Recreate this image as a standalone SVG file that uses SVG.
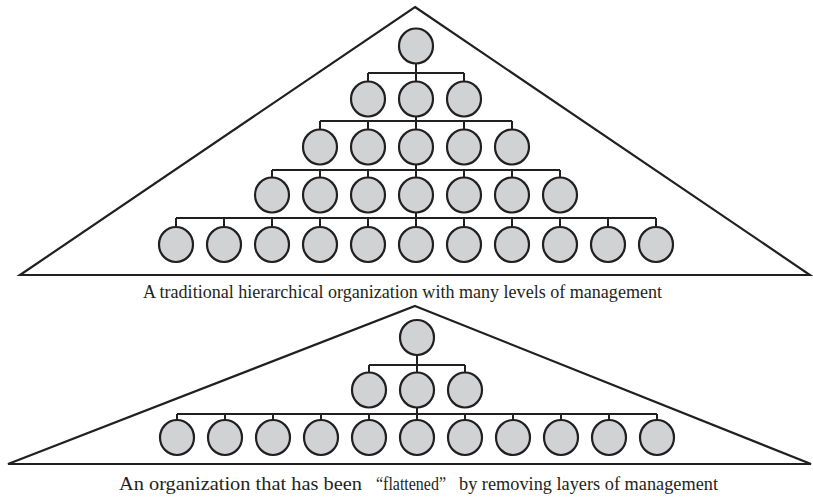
<svg xmlns="http://www.w3.org/2000/svg" width="813" height="497" viewBox="0 0 813 497">
<defs>
<style>
.tri{fill:none;stroke:#231f20;stroke-width:2.2;stroke-linejoin:miter}
.n{fill:#d1d2d4;stroke:#231f20;stroke-width:2.2}
.c{fill:none;stroke:#231f20;stroke-width:2}
.cap{font-family:"Liberation Serif","DejaVu Serif",serif;font-size:18px;fill:#231f20}
</style>
</defs>
<rect width="813" height="497" fill="#ffffff"/>
<g id="pyramid-top">
<polygon class="tri" points="415,7 810,275 20,275"/>
</g>
<g id="pyramid-bottom">
<polygon class="tri" points="415,306 811,464 8,464"/>
</g>
<g id="connectors">
<path class="c" d="M416,63V73M368,73H464M368,73V82M416,73V82M464,73V82"/>
<path class="c" d="M416,116V121M320,121H512M320,121V130M368,121V130M416,121V130M464,121V130M512,121V130"/>
<path class="c" d="M416,164V170M272,170H560M272,170V178M320,170V178M368,170V178M416,170V178M464,170V178M512,170V178M560,170V178"/>
<path class="c" d="M416,212V218M176,218H656M176,218V227M224,218V227M272,218V227M320,218V227M368,218V227M416,218V227M464,218V227M512,218V227M560,218V227M608,218V227M656,218V227"/>
<path class="c" d="M417,355V365M369,365H465M369,365V373M417,365V373M465,365V373"/>
<path class="c" d="M417,407V414M177,414H657M177,414V420M225,414V420M273,414V420M321,414V420M369,414V420M417,414V420M465,414V420M513,414V420M561,414V420M609,414V420M657,414V420"/>
</g>
<g id="top-l1"><ellipse class="n" cx="416" cy="46" rx="17" ry="17.5"/></g>
<g id="top-l2">
<ellipse class="n" cx="368" cy="99" rx="17" ry="17.5"/>
<ellipse class="n" cx="416" cy="99" rx="17" ry="17.5"/>
<ellipse class="n" cx="464" cy="99" rx="17" ry="17.5"/>
</g>
<g id="top-l3">
<ellipse class="n" cx="320" cy="147" rx="17" ry="17.5"/>
<ellipse class="n" cx="368" cy="147" rx="17" ry="17.5"/>
<ellipse class="n" cx="416" cy="147" rx="17" ry="17.5"/>
<ellipse class="n" cx="464" cy="147" rx="17" ry="17.5"/>
<ellipse class="n" cx="512" cy="147" rx="17" ry="17.5"/>
</g>
<g id="top-l4">
<ellipse class="n" cx="272" cy="195" rx="17" ry="17.5"/>
<ellipse class="n" cx="320" cy="195" rx="17" ry="17.5"/>
<ellipse class="n" cx="368" cy="195" rx="17" ry="17.5"/>
<ellipse class="n" cx="416" cy="195" rx="17" ry="17.5"/>
<ellipse class="n" cx="464" cy="195" rx="17" ry="17.5"/>
<ellipse class="n" cx="512" cy="195" rx="17" ry="17.5"/>
<ellipse class="n" cx="560" cy="195" rx="17" ry="17.5"/>
</g>
<g id="top-l5">
<ellipse class="n" cx="176" cy="244.5" rx="17" ry="17.5"/>
<ellipse class="n" cx="224" cy="244.5" rx="17" ry="17.5"/>
<ellipse class="n" cx="272" cy="244.5" rx="17" ry="17.5"/>
<ellipse class="n" cx="320" cy="244.5" rx="17" ry="17.5"/>
<ellipse class="n" cx="368" cy="244.5" rx="17" ry="17.5"/>
<ellipse class="n" cx="416" cy="244.5" rx="17" ry="17.5"/>
<ellipse class="n" cx="464" cy="244.5" rx="17" ry="17.5"/>
<ellipse class="n" cx="512" cy="244.5" rx="17" ry="17.5"/>
<ellipse class="n" cx="560" cy="244.5" rx="17" ry="17.5"/>
<ellipse class="n" cx="608" cy="244.5" rx="17" ry="17.5"/>
<ellipse class="n" cx="656" cy="244.5" rx="17" ry="17.5"/>
</g>
<g id="bot-l1"><ellipse class="n" cx="417" cy="337.5" rx="17" ry="17.5"/></g>
<g id="bot-l2">
<ellipse class="n" cx="369" cy="390" rx="17" ry="17.5"/>
<ellipse class="n" cx="417" cy="390" rx="17" ry="17.5"/>
<ellipse class="n" cx="465" cy="390" rx="17" ry="17.5"/>
</g>
<g id="bot-l3">
<ellipse class="n" cx="177" cy="437.5" rx="17" ry="17.5"/>
<ellipse class="n" cx="225" cy="437.5" rx="17" ry="17.5"/>
<ellipse class="n" cx="273" cy="437.5" rx="17" ry="17.5"/>
<ellipse class="n" cx="321" cy="437.5" rx="17" ry="17.5"/>
<ellipse class="n" cx="369" cy="437.5" rx="17" ry="17.5"/>
<ellipse class="n" cx="417" cy="437.5" rx="17" ry="17.5"/>
<ellipse class="n" cx="465" cy="437.5" rx="17" ry="17.5"/>
<ellipse class="n" cx="513" cy="437.5" rx="17" ry="17.5"/>
<ellipse class="n" cx="561" cy="437.5" rx="17" ry="17.5"/>
<ellipse class="n" cx="609" cy="437.5" rx="17" ry="17.5"/>
<ellipse class="n" cx="657" cy="437.5" rx="17" ry="17.5"/>
</g>
<g id="captions">
<text class="cap" x="143" y="298" textLength="519" lengthAdjust="spacingAndGlyphs">A traditional hierarchical organization with many levels of management</text>
<text class="cap" y="490"><tspan x="119" textLength="243" lengthAdjust="spacingAndGlyphs">An organization that has been</tspan> <tspan x="376" textLength="70" lengthAdjust="spacingAndGlyphs">“flattened”</tspan> <tspan x="459" textLength="259" lengthAdjust="spacingAndGlyphs">by removing layers of management</tspan></text>
</g>
</svg>
